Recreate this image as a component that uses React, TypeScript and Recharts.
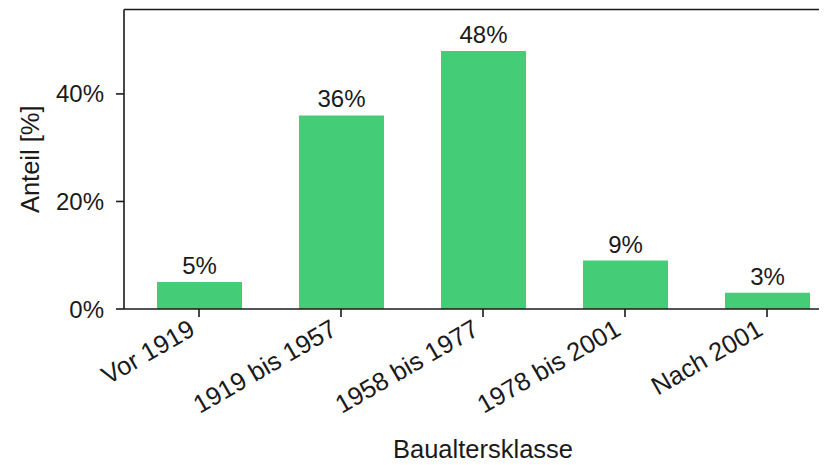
import React from "react";
import {
  Bar,
  BarChart,
  LabelList,
  ReferenceLine,
  XAxis,
  YAxis,
} from "recharts";

// Anteil je Baualtersklasse
const categories = [
  "Vor 1919",
  "1919 bis 1957",
  "1958 bis 1977",
  "1978 bis 2001",
  "Nach 2001",
];
const shares = [5, 36, 48, 9, 3];
const yTicks = [0, 20, 40];
const Y_MAX = 55.7;

const data = categories.map((name, i) => ({ name, share: shares[i] }));

const FONT = "'Liberation Sans', Arial, sans-serif";
const INK = "#1a1a1a";
const BAR = "#44cc77";
const FS = 24; // y-Ticks und Balkenbeschriftung
const FS_X = 25.5; // gedrehte Kategorien
const FS_LABEL = 25.5; // Achsentitel

function AngledTick({ x, y, payload }: any) {
  const tx = x - 2.5;
  const ty = y + 17;
  return (
    <text
      x={tx}
      y={ty}
      transform={`rotate(-30, ${tx}, ${ty})`}
      textAnchor="end"
      fontSize={FS_X}
      fontFamily={FONT}
      fill={INK}
    >
      {payload.value}
    </text>
  );
}

export default function App() {
  return (
    <div style={{ width: 819, height: 457, overflow: "hidden" }}>
      <BarChart
        width={840}
        height={457}
        data={data}
        margin={{ top: 1.5, right: 6, left: 0, bottom: 0 }}
        style={{ fontFamily: FONT }}
      >
        <XAxis
          dataKey="name"
          height={156}
          padding={{ left: 4, right: 4 }}
          tick={<AngledTick />}
          tickSize={8}
          tickMargin={0}
          interval={0}
          stroke={INK}
          strokeWidth={1.6}
          tickLine={{ stroke: INK, strokeWidth: 1.6 }}
          label={{
            content: ({ viewBox }: any) => (
              <text
                x={viewBox.x + viewBox.width / 2}
                y={viewBox.y + 149}
                textAnchor="middle"
                fontSize={FS_LABEL}
                fontFamily={FONT}
                fill={INK}
              >
                Baualtersklasse
              </text>
            ),
          }}
        />
        <YAxis
          width={116}
          domain={[0, Y_MAX]}
          ticks={yTicks}
          allowDataOverflow
          tickFormatter={(v: number) => `${v}%`}
          tickSize={8}
          tickMargin={12}
          tick={{ fontSize: FS, fill: INK, fontFamily: FONT }}
          stroke={INK}
          strokeWidth={1.6}
          tickLine={{ stroke: INK, strokeWidth: 1.6 }}
          label={{
            content: ({ viewBox }: any) => {
              const cx = viewBox.x + 22;
              const cy = viewBox.y + viewBox.height / 2;
              return (
                <text
                  x={cx}
                  y={cy}
                  transform={`rotate(-90, ${cx}, ${cy})`}
                  textAnchor="middle"
                  dominantBaseline="central"
                  fontSize={FS_LABEL}
                  fontFamily={FONT}
                  fill={INK}
                >
                  Anteil [%]
                </text>
              );
            },
          }}
        />
        <ReferenceLine y={Y_MAX} stroke={INK} strokeWidth={1.6} />
        <Bar dataKey="share" fill={BAR} barSize={85} isAnimationActive={false}>
          <LabelList
            dataKey="share"
            position="top"
            offset={8}
            formatter={(v: number) => `${v}%`}
            style={{ fontSize: FS, fill: INK, fontFamily: FONT }}
          />
        </Bar>
      </BarChart>
    </div>
  );
}
